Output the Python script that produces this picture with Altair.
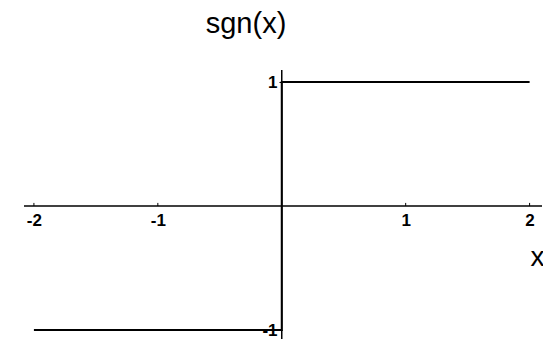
import altair as alt
import pandas as pd

# ---- data ----
x_pts = [-2, 0, 0, 2]
y_pts = [-1, -1, 1, 1]
pt_order = [0, 1, 2, 3]
x_tick_vals = [-2, -1, 1, 2]
y_tick_vals = [-1, 1]
x_domain = [-2.08, 2.1]
y_domain = [-1.0, 1.097]
y_axis_extent = [-1.08, 1.097]
title_text = "sgn(x)"
x_label = "x"
tick_len = 0.025

FONT = "Liberation Sans"

df = pd.DataFrame({"x": x_pts, "y": y_pts, "order": pt_order})
ticks_df = pd.DataFrame({"t": x_tick_vals})
one = pd.DataFrame({"a": [0]})

xs = alt.Scale(domain=x_domain, nice=False, zero=False)
ys = alt.Scale(domain=y_domain, nice=False, zero=False)

x_axis = alt.Axis(
    values=x_tick_vals, offset=-124, domain=False, ticks=False, tickSize=0,
    grid=False, labelFontSize=17, labelFontWeight="bold", labelPadding=6,
    labelColor="black", labelFont=FONT, labelFlush=False, labelOverlap=False,
    labelBound=False, labelExpr="'' + datum.value",
    title=x_label, titleX=513, titleY=59, titleAlign="center",
    titleBaseline="alphabetic", titleAngle=0, titleFontSize=28,
    titleFontWeight="normal", titleFont=FONT, titleColor="black",
)
y_axis = alt.Axis(
    values=y_tick_vals, offset=-258, domain=False, ticks=True, tickSize=3,
    tickColor="black", grid=False, labelFontSize=17, labelFontWeight="bold",
    labelPadding=2, labelColor="black", labelFont=FONT, labelFlush=False,
    labelOverlap=False, labelBound=False, labelExpr="'' + datum.value",
    title=None,
)

x_rule = alt.Chart(one).mark_rule(color="black", strokeWidth=1.5).encode(
    x=alt.XDatum(x_domain[0], type="quantitative", scale=xs),
    x2=alt.X2Datum(x_domain[1]),
    y=alt.YDatum(0, type="quantitative", scale=ys),
)
y_rule = alt.Chart(one).mark_rule(color="black", strokeWidth=1.5).encode(
    x=alt.XDatum(0, type="quantitative", scale=xs),
    y=alt.YDatum(y_axis_extent[0], type="quantitative", scale=ys),
    y2=alt.Y2Datum(y_axis_extent[1]),
)
x_ticks = alt.Chart(ticks_df).mark_rule(color="black", strokeWidth=1).encode(
    x=alt.X("t:Q", scale=xs, axis=x_axis),
    y=alt.YDatum(0, type="quantitative", scale=ys),
    y2=alt.Y2Datum(tick_len),
)
line = alt.Chart(df).mark_line(color="black", strokeWidth=2).encode(
    x=alt.X("x:Q", scale=xs, axis=x_axis),
    y=alt.Y("y:Q", scale=ys, axis=y_axis),
    order="order:Q",
)

chart = alt.layer(line, x_rule, y_rule, x_ticks).properties(
    width=518,
    height=260,
    autosize="none",
    padding={"left": 16, "top": 62, "right": 1, "bottom": 9},
    title=alt.TitleParams(
        title_text, fontSize=29, font=FONT, fontWeight="normal",
        color="black", anchor="middle", dx=-37, offset=30,
    ),
    background="white",
).configure_view(stroke=None)

chart.save("out.html", embed_options={"renderer": "svg", "actions": False})
